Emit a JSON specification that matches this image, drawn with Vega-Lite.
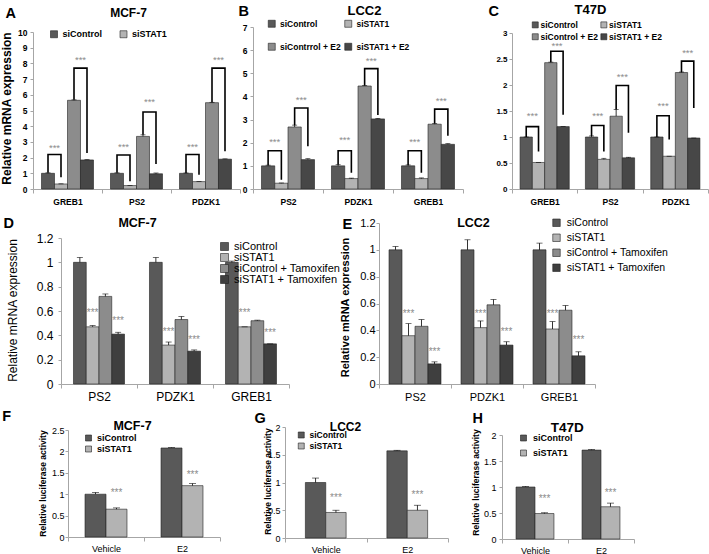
{
"$schema": "https://vega.github.io/schema/vega-lite/v6.json",
"background": "white",
"padding": 0,
"config": {
  "font": "Liberation Sans",
  "view": {"stroke": null},
  "axis": {"domainColor": "#a6a6a6", "tickColor": "#a6a6a6", "labelColor": "#000000", "titleColor": "#000000", "grid": false, "labelFont": "Liberation Sans", "titleFont": "Liberation Sans"},
  "legend": {"labelFont": "Liberation Sans", "labelColor": "#000000", "padding": 0, "symbolStrokeColor": "#222222", "symbolStrokeWidth": 0.6, "symbolType": "square"},
  "text": {"font": "Liberation Sans"}
},
"datasets": {
  "A_bars": [
    {"group": "GREB1", "cond": "siControl", "value": 1.0, "hi": 1.03},
    {"group": "GREB1", "cond": "siSTAT1", "value": 0.32, "hi": 0.33},
    {"group": "GREB1", "cond": "siControl + E2", "value": 5.65, "hi": 5.68},
    {"group": "GREB1", "cond": "siSTAT1 + E2", "value": 1.85, "hi": 1.87},
    {"group": "PS2", "cond": "siControl", "value": 1.0, "hi": 1.03},
    {"group": "PS2", "cond": "siSTAT1", "value": 0.22, "hi": 0.23},
    {"group": "PS2", "cond": "siControl + E2", "value": 3.35, "hi": 3.45},
    {"group": "PS2", "cond": "siSTAT1 + E2", "value": 0.97, "hi": 1.02},
    {"group": "PDZK1", "cond": "siControl", "value": 1.0, "hi": 1.02},
    {"group": "PDZK1", "cond": "siSTAT1", "value": 0.47, "hi": 0.48},
    {"group": "PDZK1", "cond": "siControl + E2", "value": 5.5, "hi": 5.52},
    {"group": "PDZK1", "cond": "siSTAT1 + E2", "value": 1.9, "hi": 1.92}
  ],
  "A_br": [
    {"id": "g1", "group": "GREB1", "cond": "siControl", "value": 1.03, "seq": 0},
    {"id": "g1", "group": "GREB1", "cond": "siControl", "value": 2.2, "seq": 1},
    {"id": "g1", "group": "GREB1", "cond": "siSTAT1", "value": 2.2, "seq": 2},
    {"id": "g1", "group": "GREB1", "cond": "siSTAT1", "value": 0.75, "seq": 3},
    {"id": "g2", "group": "GREB1", "cond": "siControl + E2", "value": 5.68, "seq": 0},
    {"id": "g2", "group": "GREB1", "cond": "siControl + E2", "value": 7.7, "seq": 1},
    {"id": "g2", "group": "GREB1", "cond": "siSTAT1 + E2", "value": 7.7, "seq": 2},
    {"id": "g2", "group": "GREB1", "cond": "siSTAT1 + E2", "value": 2.3, "seq": 3},
    {"id": "p1", "group": "PS2", "cond": "siControl", "value": 1.03, "seq": 0},
    {"id": "p1", "group": "PS2", "cond": "siControl", "value": 2.17, "seq": 1},
    {"id": "p1", "group": "PS2", "cond": "siSTAT1", "value": 2.17, "seq": 2},
    {"id": "p1", "group": "PS2", "cond": "siSTAT1", "value": 0.5, "seq": 3},
    {"id": "p2", "group": "PS2", "cond": "siControl + E2", "value": 3.45, "seq": 0},
    {"id": "p2", "group": "PS2", "cond": "siControl + E2", "value": 4.9, "seq": 1},
    {"id": "p2", "group": "PS2", "cond": "siSTAT1 + E2", "value": 4.9, "seq": 2},
    {"id": "p2", "group": "PS2", "cond": "siSTAT1 + E2", "value": 1.6, "seq": 3},
    {"id": "z1", "group": "PDZK1", "cond": "siControl", "value": 1.02, "seq": 0},
    {"id": "z1", "group": "PDZK1", "cond": "siControl", "value": 2.2, "seq": 1},
    {"id": "z1", "group": "PDZK1", "cond": "siSTAT1", "value": 2.2, "seq": 2},
    {"id": "z1", "group": "PDZK1", "cond": "siSTAT1", "value": 0.9, "seq": 3},
    {"id": "z2", "group": "PDZK1", "cond": "siControl + E2", "value": 5.52, "seq": 0},
    {"id": "z2", "group": "PDZK1", "cond": "siControl + E2", "value": 7.7, "seq": 1},
    {"id": "z2", "group": "PDZK1", "cond": "siSTAT1 + E2", "value": 7.7, "seq": 2},
    {"id": "z2", "group": "PDZK1", "cond": "siSTAT1 + E2", "value": 2.4, "seq": 3}
  ],
  "A_st": [
    {"group": "GREB1", "cond": "siControl", "value": 2.6},
    {"group": "GREB1", "cond": "siControl + E2", "value": 8.2},
    {"group": "PS2", "cond": "siControl", "value": 2.7},
    {"group": "PS2", "cond": "siControl + E2", "value": 5.55},
    {"group": "PDZK1", "cond": "siControl", "value": 2.65},
    {"group": "PDZK1", "cond": "siControl + E2", "value": 8.2}
  ],
  "B_bars": [
    {"group": "PS2", "cond": "siControl", "value": 1.0, "hi": 1.03},
    {"group": "PS2", "cond": "siSTAT1", "value": 0.25, "hi": 0.26},
    {"group": "PS2", "cond": "siContrrol + E2", "value": 2.68, "hi": 2.76},
    {"group": "PS2", "cond": "siSTAT1 + E2", "value": 1.27, "hi": 1.31},
    {"group": "PDZK1", "cond": "siControl", "value": 1.0, "hi": 1.05},
    {"group": "PDZK1", "cond": "siSTAT1", "value": 0.45, "hi": 0.47},
    {"group": "PDZK1", "cond": "siContrrol + E2", "value": 4.45, "hi": 4.47},
    {"group": "PDZK1", "cond": "siSTAT1 + E2", "value": 3.03, "hi": 3.05},
    {"group": "GREB1", "cond": "siControl", "value": 1.0, "hi": 1.04},
    {"group": "GREB1", "cond": "siSTAT1", "value": 0.45, "hi": 0.48},
    {"group": "GREB1", "cond": "siContrrol + E2", "value": 2.8, "hi": 2.83},
    {"group": "GREB1", "cond": "siSTAT1 + E2", "value": 1.93, "hi": 1.96}
  ],
  "B_br": [
    {"id": "p1", "group": "PS2", "cond": "siControl", "value": 1.03, "seq": 0},
    {"id": "p1", "group": "PS2", "cond": "siControl", "value": 1.65, "seq": 1},
    {"id": "p1", "group": "PS2", "cond": "siSTAT1", "value": 1.65, "seq": 2},
    {"id": "p1", "group": "PS2", "cond": "siSTAT1", "value": 0.4, "seq": 3},
    {"id": "p2", "group": "PS2", "cond": "siContrrol + E2", "value": 2.76, "seq": 0},
    {"id": "p2", "group": "PS2", "cond": "siContrrol + E2", "value": 3.5, "seq": 1},
    {"id": "p2", "group": "PS2", "cond": "siSTAT1 + E2", "value": 3.5, "seq": 2},
    {"id": "p2", "group": "PS2", "cond": "siSTAT1 + E2", "value": 1.85, "seq": 3},
    {"id": "z1", "group": "PDZK1", "cond": "siControl", "value": 1.05, "seq": 0},
    {"id": "z1", "group": "PDZK1", "cond": "siControl", "value": 1.65, "seq": 1},
    {"id": "z1", "group": "PDZK1", "cond": "siSTAT1", "value": 1.65, "seq": 2},
    {"id": "z1", "group": "PDZK1", "cond": "siSTAT1", "value": 0.7, "seq": 3},
    {"id": "z2", "group": "PDZK1", "cond": "siContrrol + E2", "value": 4.47, "seq": 0},
    {"id": "z2", "group": "PDZK1", "cond": "siContrrol + E2", "value": 5.2, "seq": 1},
    {"id": "z2", "group": "PDZK1", "cond": "siSTAT1 + E2", "value": 5.2, "seq": 2},
    {"id": "z2", "group": "PDZK1", "cond": "siSTAT1 + E2", "value": 3.2, "seq": 3},
    {"id": "g1", "group": "GREB1", "cond": "siControl", "value": 1.04, "seq": 0},
    {"id": "g1", "group": "GREB1", "cond": "siControl", "value": 1.65, "seq": 1},
    {"id": "g1", "group": "GREB1", "cond": "siSTAT1", "value": 1.65, "seq": 2},
    {"id": "g1", "group": "GREB1", "cond": "siSTAT1", "value": 0.7, "seq": 3},
    {"id": "g2", "group": "GREB1", "cond": "siContrrol + E2", "value": 2.83, "seq": 0},
    {"id": "g2", "group": "GREB1", "cond": "siContrrol + E2", "value": 3.45, "seq": 1},
    {"id": "g2", "group": "GREB1", "cond": "siSTAT1 + E2", "value": 3.45, "seq": 2},
    {"id": "g2", "group": "GREB1", "cond": "siSTAT1 + E2", "value": 2.3, "seq": 3}
  ],
  "B_st": [
    {"group": "PS2", "cond": "siControl", "value": 2.05},
    {"group": "PS2", "cond": "siContrrol + E2", "value": 3.85},
    {"group": "PDZK1", "cond": "siControl", "value": 2.1},
    {"group": "PDZK1", "cond": "siContrrol + E2", "value": 5.55},
    {"group": "GREB1", "cond": "siControl", "value": 2.05},
    {"group": "GREB1", "cond": "siContrrol + E2", "value": 3.8}
  ],
  "C_bars": [
    {"group": "GREB1", "cond": "siControl", "value": 1.0, "hi": 1.0},
    {"group": "GREB1", "cond": "siSTAT1", "value": 0.51, "hi": 0.51},
    {"group": "GREB1", "cond": "siControl + E2", "value": 2.43, "hi": 2.44},
    {"group": "GREB1", "cond": "siSTAT1 + E2", "value": 1.2, "hi": 1.2},
    {"group": "PS2", "cond": "siControl", "value": 1.0, "hi": 1.02},
    {"group": "PS2", "cond": "siSTAT1", "value": 0.57, "hi": 0.59},
    {"group": "PS2", "cond": "siControl + E2", "value": 1.4, "hi": 1.53},
    {"group": "PS2", "cond": "siSTAT1 + E2", "value": 0.6, "hi": 0.61},
    {"group": "PDZK1", "cond": "siControl", "value": 1.0, "hi": 1.0},
    {"group": "PDZK1", "cond": "siSTAT1", "value": 0.63, "hi": 0.63},
    {"group": "PDZK1", "cond": "siControl + E2", "value": 2.24, "hi": 2.25},
    {"group": "PDZK1", "cond": "siSTAT1 + E2", "value": 0.98, "hi": 0.98}
  ],
  "C_br": [
    {"id": "g1", "group": "GREB1", "cond": "siControl", "value": 1.0, "seq": 0},
    {"id": "g1", "group": "GREB1", "cond": "siControl", "value": 1.2, "seq": 1},
    {"id": "g1", "group": "GREB1", "cond": "siSTAT1", "value": 1.2, "seq": 2},
    {"id": "g1", "group": "GREB1", "cond": "siSTAT1", "value": 0.72, "seq": 3},
    {"id": "g2", "group": "GREB1", "cond": "siControl + E2", "value": 2.44, "seq": 0},
    {"id": "g2", "group": "GREB1", "cond": "siControl + E2", "value": 2.65, "seq": 1},
    {"id": "g2", "group": "GREB1", "cond": "siSTAT1 + E2", "value": 2.65, "seq": 2},
    {"id": "g2", "group": "GREB1", "cond": "siSTAT1 + E2", "value": 1.43, "seq": 3},
    {"id": "p1", "group": "PS2", "cond": "siControl", "value": 1.02, "seq": 0},
    {"id": "p1", "group": "PS2", "cond": "siControl", "value": 1.22, "seq": 1},
    {"id": "p1", "group": "PS2", "cond": "siSTAT1", "value": 1.22, "seq": 2},
    {"id": "p1", "group": "PS2", "cond": "siSTAT1", "value": 0.72, "seq": 3},
    {"id": "p2", "group": "PS2", "cond": "siControl + E2", "value": 1.53, "seq": 0},
    {"id": "p2", "group": "PS2", "cond": "siControl + E2", "value": 1.99, "seq": 1},
    {"id": "p2", "group": "PS2", "cond": "siSTAT1 + E2", "value": 1.99, "seq": 2},
    {"id": "p2", "group": "PS2", "cond": "siSTAT1 + E2", "value": 1.08, "seq": 3},
    {"id": "z1", "group": "PDZK1", "cond": "siControl", "value": 1.0, "seq": 0},
    {"id": "z1", "group": "PDZK1", "cond": "siControl", "value": 1.41, "seq": 1},
    {"id": "z1", "group": "PDZK1", "cond": "siSTAT1", "value": 1.41, "seq": 2},
    {"id": "z1", "group": "PDZK1", "cond": "siSTAT1", "value": 0.95, "seq": 3},
    {"id": "z2", "group": "PDZK1", "cond": "siControl + E2", "value": 2.25, "seq": 0},
    {"id": "z2", "group": "PDZK1", "cond": "siControl + E2", "value": 2.46, "seq": 1},
    {"id": "z2", "group": "PDZK1", "cond": "siSTAT1 + E2", "value": 2.46, "seq": 2},
    {"id": "z2", "group": "PDZK1", "cond": "siSTAT1 + E2", "value": 1.56, "seq": 3}
  ],
  "C_st": [
    {"group": "GREB1", "cond": "siControl", "value": 1.4},
    {"group": "GREB1", "cond": "siControl + E2", "value": 2.75},
    {"group": "PS2", "cond": "siControl", "value": 1.4},
    {"group": "PS2", "cond": "siControl + E2", "value": 2.15},
    {"group": "PDZK1", "cond": "siControl", "value": 1.59},
    {"group": "PDZK1", "cond": "siControl + E2", "value": 2.62}
  ],
  "D_bars": [
    {"group": "PS2", "cond": "siControl", "value": 1.0, "hi": 1.04},
    {"group": "PS2", "cond": "siSTAT1", "value": 0.47, "hi": 0.48},
    {"group": "PS2", "cond": "siControl + Tamoxifen", "value": 0.72, "hi": 0.74},
    {"group": "PS2", "cond": "siSTAT1 + Tamoxifen", "value": 0.41, "hi": 0.425},
    {"group": "PDZK1", "cond": "siControl", "value": 1.0, "hi": 1.04},
    {"group": "PDZK1", "cond": "siSTAT1", "value": 0.32, "hi": 0.345},
    {"group": "PDZK1", "cond": "siControl + Tamoxifen", "value": 0.53, "hi": 0.555},
    {"group": "PDZK1", "cond": "siSTAT1 + Tamoxifen", "value": 0.27, "hi": 0.28},
    {"group": "GREB1", "cond": "siControl", "value": 1.0, "hi": 1.01},
    {"group": "GREB1", "cond": "siSTAT1", "value": 0.47, "hi": 0.47},
    {"group": "GREB1", "cond": "siControl + Tamoxifen", "value": 0.52, "hi": 0.525},
    {"group": "GREB1", "cond": "siSTAT1 + Tamoxifen", "value": 0.33, "hi": 0.33}
  ],
  "D_st": [
    {"group": "PS2", "cond": "siSTAT1", "value": 0.58},
    {"group": "PS2", "cond": "siSTAT1 + Tamoxifen", "value": 0.52},
    {"group": "PDZK1", "cond": "siSTAT1", "value": 0.43},
    {"group": "PDZK1", "cond": "siSTAT1 + Tamoxifen", "value": 0.36},
    {"group": "GREB1", "cond": "siSTAT1", "value": 0.58},
    {"group": "GREB1", "cond": "siSTAT1 + Tamoxifen", "value": 0.42}
  ],
  "E_bars": [
    {"group": "PS2", "cond": "siControl", "value": 1.0, "hi": 1.025},
    {"group": "PS2", "cond": "siSTAT1", "value": 0.36, "hi": 0.45},
    {"group": "PS2", "cond": "siControl + Tamoxifen", "value": 0.43, "hi": 0.48},
    {"group": "PS2", "cond": "siSTAT1 + Tamoxifen", "value": 0.15, "hi": 0.165},
    {"group": "PDZK1", "cond": "siControl", "value": 1.0, "hi": 1.075},
    {"group": "PDZK1", "cond": "siSTAT1", "value": 0.42, "hi": 0.47},
    {"group": "PDZK1", "cond": "siControl + Tamoxifen", "value": 0.59, "hi": 0.63},
    {"group": "PDZK1", "cond": "siSTAT1 + Tamoxifen", "value": 0.29, "hi": 0.315},
    {"group": "GREB1", "cond": "siControl", "value": 1.0, "hi": 1.05},
    {"group": "GREB1", "cond": "siSTAT1", "value": 0.41, "hi": 0.465},
    {"group": "GREB1", "cond": "siControl + Tamoxifen", "value": 0.55, "hi": 0.585},
    {"group": "GREB1", "cond": "siSTAT1 + Tamoxifen", "value": 0.21, "hi": 0.24}
  ],
  "E_st": [
    {"group": "PS2", "cond": "siSTAT1", "value": 0.52},
    {"group": "PS2", "cond": "siSTAT1 + Tamoxifen", "value": 0.24},
    {"group": "PDZK1", "cond": "siSTAT1", "value": 0.52},
    {"group": "PDZK1", "cond": "siSTAT1 + Tamoxifen", "value": 0.39},
    {"group": "GREB1", "cond": "siSTAT1", "value": 0.52},
    {"group": "GREB1", "cond": "siSTAT1 + Tamoxifen", "value": 0.33}
  ],
  "F_bars": [
    {"group": "Vehicle", "cond": "siControl", "value": 1.0, "hi": 1.04},
    {"group": "Vehicle", "cond": "siSTAT1", "value": 0.65, "hi": 0.68},
    {"group": "E2", "cond": "siControl", "value": 2.08, "hi": 2.09},
    {"group": "E2", "cond": "siSTAT1", "value": 1.2, "hi": 1.25}
  ],
  "F_st": [
    {"group": "Vehicle", "cond": "siSTAT1", "value": 1.03},
    {"group": "E2", "cond": "siSTAT1", "value": 1.45}
  ],
  "G_bars": [
    {"group": "Vehicle", "cond": "siControl", "value": 1.0, "hi": 1.08},
    {"group": "Vehicle", "cond": "siSTAT1", "value": 0.46, "hi": 0.5},
    {"group": "E2", "cond": "siControl", "value": 1.57, "hi": 1.58},
    {"group": "E2", "cond": "siSTAT1", "value": 0.5, "hi": 0.59}
  ],
  "G_st": [
    {"group": "Vehicle", "cond": "siSTAT1", "value": 0.72},
    {"group": "E2", "cond": "siSTAT1", "value": 0.77}
  ],
  "H_bars": [
    {"group": "Vehicle", "cond": "siControl", "value": 1.0, "hi": 1.01},
    {"group": "Vehicle", "cond": "siSTAT1", "value": 0.49, "hi": 0.505},
    {"group": "E2", "cond": "siControl", "value": 1.71, "hi": 1.72},
    {"group": "E2", "cond": "siSTAT1", "value": 0.62, "hi": 0.69}
  ],
  "H_st": [
    {"group": "Vehicle", "cond": "siSTAT1", "value": 0.77},
    {"group": "E2", "cond": "siSTAT1", "value": 0.88}
  ]
},
"columns": 3,
"spacing": {"row": 0, "column": 0},
"align": "each",
"bounds": "flush",
"resolve": {"scale": {"color": "independent", "xOffset": "independent"}, "legend": {"color": "independent"}},
"concat": [
 {
  "width": 245, "height": 189,
  "resolve": {"axis": {"x": "independent", "y": "independent"}},
  "layer": [
   {"data": {"name": "A_bars"},
    "mark": {"type": "bar", "stroke": "#222222", "strokeWidth": 0.6},
    "encoding": {
     "x": {"field": "group", "type": "nominal", "sort": ["GREB1", "PS2", "PDZK1"], "scale": {"range": [33, 240], "paddingInner": 0, "paddingOuter": 0}, "axis": {"title": null, "labelAngle": 0, "labelFontSize": 8.5, "labelFontWeight": "bold", "tickBand": "extent", "tickSize": 4, "labelPadding": 4}},
     "xOffset": {"field": "cond", "type": "nominal", "sort": ["siControl", "siSTAT1", "siControl + E2", "siSTAT1 + E2"], "scale": {"paddingInner": 0, "paddingOuter": 0.654}},
     "y": {"field": "value", "type": "quantitative", "scale": {"domain": [0, 10], "range": [189, 32], "nice": false}, "axis": {"offset": -33, "title": "Relative mRNA expression", "values": [0, 1, 2, 3, 4, 5, 6, 7, 8, 9, 10], "format": "~r", "labelFontSize": 8.5, "labelFontWeight": "bold", "tickSize": 3, "labelPadding": 3, "titleFontSize": 12, "titleFontWeight": "bold", "titleX": -27, "titleY": 108, "titleAngle": -90, "titleAlign": "center", "titleBaseline": "middle"}},
     "color": {"field": "cond", "type": "nominal", "scale": {"domain": ["siControl", "siSTAT1", "siControl + E2", "siSTAT1 + E2"], "range": ["#595959", "#b3b3b3", "#8c8c8c", "#474747"]}, "legend": {"values": ["siControl", "siSTAT1"], "title": null, "orient": "none", "legendX": 49.5, "legendY": 29.5, "direction": "horizontal", "columns": 2, "columnPadding": 15.5, "symbolSize": 49, "labelFontSize": 9, "labelFontWeight": "bold", "labelOffset": 4}}
    }},
   {"data": {"name": "A_bars"},
    "mark": {"type": "rule", "color": "#000000", "strokeWidth": 0.8},
    "encoding": {
     "x": {"field": "group", "type": "nominal", "sort": ["GREB1", "PS2", "PDZK1"], "axis": null},
     "xOffset": {"field": "cond", "type": "nominal", "sort": ["siControl", "siSTAT1", "siControl + E2", "siSTAT1 + E2"]},
     "y": {"field": "value", "type": "quantitative", "axis": null},
     "y2": {"field": "hi"}
    }},
   {"data": {"name": "A_bars"},
    "mark": {"type": "tick", "color": "#000000", "size": 5, "thickness": 0.8},
    "encoding": {
     "x": {"field": "group", "type": "nominal", "sort": ["GREB1", "PS2", "PDZK1"], "axis": null},
     "xOffset": {"field": "cond", "type": "nominal", "sort": ["siControl", "siSTAT1", "siControl + E2", "siSTAT1 + E2"]},
     "y": {"field": "hi", "type": "quantitative", "axis": null}
    }},
   {"data": {"name": "A_br"},
    "mark": {"type": "line", "color": "#000000", "strokeWidth": 1.6},
    "encoding": {
     "x": {"field": "group", "type": "nominal", "sort": ["GREB1", "PS2", "PDZK1"], "axis": null},
     "xOffset": {"field": "cond", "type": "nominal", "sort": ["siControl", "siSTAT1", "siControl + E2", "siSTAT1 + E2"]},
     "y": {"field": "value", "type": "quantitative", "axis": null},
     "detail": {"field": "id", "type": "nominal"},
     "order": {"field": "seq", "type": "quantitative"}
    }},
   {"data": {"name": "A_st"},
    "mark": {"type": "text", "text": "***", "color": "#8c8c8c", "fontSize": 9.5, "dx": 6.5},
    "encoding": {
     "x": {"field": "group", "type": "nominal", "sort": ["GREB1", "PS2", "PDZK1"], "axis": {"orient": "top", "title": "MCF-7", "labels": false, "ticks": false, "domain": false, "titleX": 128, "titleY": 16, "titleAngle": 0, "titleAlign": "center", "titleBaseline": "alphabetic", "titleFontSize": 12, "titleFontWeight": "bold"}},
     "xOffset": {"field": "cond", "type": "nominal", "sort": ["siControl", "siSTAT1", "siControl + E2", "siSTAT1 + E2"]},
     "y": {"field": "value", "type": "quantitative", "axis": {"orient": "right", "title": "A", "labels": false, "ticks": false, "domain": false, "titleX": -240, "titleY": 17, "titleAngle": 0, "titleAlign": "left", "titleBaseline": "alphabetic", "titleFontSize": 14.5, "titleFontWeight": "bold"}}
    }}
  ]
 },
 {
  "width": 222, "height": 189,
  "resolve": {"axis": {"x": "independent", "y": "independent"}},
  "layer": [
   {"data": {"name": "B_bars"},
    "mark": {"type": "bar", "stroke": "#222222", "strokeWidth": 0.6},
    "encoding": {
     "x": {"field": "group", "type": "nominal", "sort": ["PS2", "PDZK1", "GREB1"], "scale": {"range": [8, 218], "paddingInner": 0, "paddingOuter": 0}, "axis": {"title": null, "labelAngle": 0, "labelFontSize": 8.5, "labelFontWeight": "bold", "tickBand": "extent", "tickSize": 4, "labelPadding": 4}},
     "xOffset": {"field": "cond", "type": "nominal", "sort": ["siControl", "siSTAT1", "siContrrol + E2", "siSTAT1 + E2"], "scale": {"paddingInner": 0, "paddingOuter": 0.64}},
     "y": {"field": "value", "type": "quantitative", "scale": {"domain": [0, 7], "range": [189, 27], "nice": false}, "axis": {"offset": -8, "title": null, "values": [0, 1, 2, 3, 4, 5, 6, 7], "format": "~r", "labelFontSize": 8.5, "labelFontWeight": "bold", "tickSize": 3, "labelPadding": 3}},
     "color": {"field": "cond", "type": "nominal", "scale": {"domain": ["siControl", "siSTAT1", "siContrrol + E2", "siSTAT1 + E2"], "range": ["#595959", "#b3b3b3", "#8c8c8c", "#474747"]}, "legend": {"title": null, "orient": "none", "legendX": 22.5, "legendY": 19.5, "direction": "horizontal", "columns": 2, "columnPadding": 1.5, "rowPadding": 13, "symbolSize": 49, "labelFontSize": 8.5, "labelFontWeight": "bold", "labelOffset": 4}}
    }},
   {"data": {"name": "B_bars"},
    "mark": {"type": "rule", "color": "#000000", "strokeWidth": 0.8},
    "encoding": {
     "x": {"field": "group", "type": "nominal", "sort": ["PS2", "PDZK1", "GREB1"], "axis": null},
     "xOffset": {"field": "cond", "type": "nominal", "sort": ["siControl", "siSTAT1", "siContrrol + E2", "siSTAT1 + E2"]},
     "y": {"field": "value", "type": "quantitative", "axis": null},
     "y2": {"field": "hi"}
    }},
   {"data": {"name": "B_bars"},
    "mark": {"type": "tick", "color": "#000000", "size": 5, "thickness": 0.8},
    "encoding": {
     "x": {"field": "group", "type": "nominal", "sort": ["PS2", "PDZK1", "GREB1"], "axis": null},
     "xOffset": {"field": "cond", "type": "nominal", "sort": ["siControl", "siSTAT1", "siContrrol + E2", "siSTAT1 + E2"]},
     "y": {"field": "hi", "type": "quantitative", "axis": null}
    }},
   {"data": {"name": "B_br"},
    "mark": {"type": "line", "color": "#000000", "strokeWidth": 1.6},
    "encoding": {
     "x": {"field": "group", "type": "nominal", "sort": ["PS2", "PDZK1", "GREB1"], "axis": null},
     "xOffset": {"field": "cond", "type": "nominal", "sort": ["siControl", "siSTAT1", "siContrrol + E2", "siSTAT1 + E2"]},
     "y": {"field": "value", "type": "quantitative", "axis": null},
     "detail": {"field": "id", "type": "nominal"},
     "order": {"field": "seq", "type": "quantitative"}
    }},
   {"data": {"name": "B_st"},
    "mark": {"type": "text", "text": "***", "color": "#8c8c8c", "fontSize": 9.5, "dx": 6.6},
    "encoding": {
     "x": {"field": "group", "type": "nominal", "sort": ["PS2", "PDZK1", "GREB1"], "axis": {"orient": "top", "title": "LCC2", "labels": false, "ticks": false, "domain": false, "titleX": 119, "titleY": 14.7, "titleAngle": 0, "titleAlign": "center", "titleBaseline": "alphabetic", "titleFontSize": 13, "titleFontWeight": "bold"}},
     "xOffset": {"field": "cond", "type": "nominal", "sort": ["siControl", "siSTAT1", "siContrrol + E2", "siSTAT1 + E2"]},
     "y": {"field": "value", "type": "quantitative", "axis": {"orient": "right", "title": "B", "labels": false, "ticks": false, "domain": false, "titleX": -229, "titleY": 15.7, "titleAngle": 0, "titleAlign": "left", "titleBaseline": "alphabetic", "titleFontSize": 14.5, "titleFontWeight": "bold"}}
    }}
  ]
 },
 {
  "width": 242, "height": 189,
  "resolve": {"axis": {"x": "independent", "y": "independent"}},
  "layer": [
   {"data": {"name": "C_bars"},
    "mark": {"type": "bar", "stroke": "#222222", "strokeWidth": 0.6},
    "encoding": {
     "x": {"field": "group", "type": "nominal", "sort": ["GREB1", "PS2", "PDZK1"], "scale": {"range": [45, 241], "paddingInner": 0, "paddingOuter": 0}, "axis": {"title": null, "labelAngle": 0, "labelFontSize": 8.5, "labelFontWeight": "bold", "tickBand": "extent", "tickSize": 4, "labelPadding": 4}},
     "xOffset": {"field": "cond", "type": "nominal", "sort": ["siControl", "siSTAT1", "siControl + E2", "siSTAT1 + E2"], "scale": {"paddingInner": 0, "paddingOuter": 0.656}},
     "y": {"field": "value", "type": "quantitative", "scale": {"domain": [0, 3], "range": [189, 33], "nice": false}, "axis": {"offset": -45, "title": null, "values": [0, 0.5, 1, 1.5, 2, 2.5, 3], "format": "~r", "labelFontSize": 8, "labelFontWeight": "bold", "tickSize": 3, "labelPadding": 2}},
     "color": {"field": "cond", "type": "nominal", "scale": {"domain": ["siControl", "siSTAT1", "siControl + E2", "siSTAT1 + E2"], "range": ["#595959", "#b3b3b3", "#8c8c8c", "#474747"]}, "legend": {"title": null, "orient": "none", "legendX": 64, "legendY": 20.5, "direction": "horizontal", "columns": 2, "columnPadding": 1.6, "rowPadding": 3, "symbolSize": 36, "labelFontSize": 8.5, "labelFontWeight": "bold", "labelOffset": 1}}
    }},
   {"data": {"name": "C_bars"},
    "mark": {"type": "rule", "color": "#000000", "strokeWidth": 0.8},
    "encoding": {
     "x": {"field": "group", "type": "nominal", "sort": ["GREB1", "PS2", "PDZK1"], "axis": null},
     "xOffset": {"field": "cond", "type": "nominal", "sort": ["siControl", "siSTAT1", "siControl + E2", "siSTAT1 + E2"]},
     "y": {"field": "value", "type": "quantitative", "axis": null},
     "y2": {"field": "hi"}
    }},
   {"data": {"name": "C_bars"},
    "mark": {"type": "tick", "color": "#000000", "size": 5, "thickness": 0.8},
    "encoding": {
     "x": {"field": "group", "type": "nominal", "sort": ["GREB1", "PS2", "PDZK1"], "axis": null},
     "xOffset": {"field": "cond", "type": "nominal", "sort": ["siControl", "siSTAT1", "siControl + E2", "siSTAT1 + E2"]},
     "y": {"field": "hi", "type": "quantitative", "axis": null}
    }},
   {"data": {"name": "C_br"},
    "mark": {"type": "line", "color": "#000000", "strokeWidth": 1.6},
    "encoding": {
     "x": {"field": "group", "type": "nominal", "sort": ["GREB1", "PS2", "PDZK1"], "axis": null},
     "xOffset": {"field": "cond", "type": "nominal", "sort": ["siControl", "siSTAT1", "siControl + E2", "siSTAT1 + E2"]},
     "y": {"field": "value", "type": "quantitative", "axis": null},
     "detail": {"field": "id", "type": "nominal"},
     "order": {"field": "seq", "type": "quantitative"}
    }},
   {"data": {"name": "C_st"},
    "mark": {"type": "text", "text": "***", "color": "#8c8c8c", "fontSize": 9.5, "dx": 6.2},
    "encoding": {
     "x": {"field": "group", "type": "nominal", "sort": ["GREB1", "PS2", "PDZK1"], "axis": {"orient": "top", "title": "T47D", "labels": false, "ticks": false, "domain": false, "titleX": 123, "titleY": 13, "titleAngle": 0, "titleAlign": "center", "titleBaseline": "alphabetic", "titleFontSize": 13, "titleFontWeight": "bold"}},
     "xOffset": {"field": "cond", "type": "nominal", "sort": ["siControl", "siSTAT1", "siControl + E2", "siSTAT1 + E2"]},
     "y": {"field": "value", "type": "quantitative", "axis": {"orient": "right", "title": "C", "labels": false, "ticks": false, "domain": false, "titleX": -221, "titleY": 15.7, "titleAngle": 0, "titleAlign": "left", "titleBaseline": "alphabetic", "titleFontSize": 14.5, "titleFontWeight": "bold"}}
    }}
  ]
 },
 {
  "width": 245, "height": 195,
  "resolve": {"axis": {"x": "independent", "y": "independent"}},
  "layer": [
   {"data": {"name": "D_bars"},
    "mark": {"type": "bar", "stroke": "#222222", "strokeWidth": 0.6},
    "encoding": {
     "x": {"field": "group", "type": "nominal", "sort": ["PS2", "PDZK1", "GREB1"], "scale": {"range": [61, 289], "paddingInner": 0, "paddingOuter": 0}, "axis": {"title": null, "labelAngle": 0, "labelFontSize": 12, "tickBand": "extent", "tickSize": 4, "labelPadding": 3}},
     "xOffset": {"field": "cond", "type": "nominal", "sort": ["siControl", "siSTAT1", "siControl + Tamoxifen", "siSTAT1 + Tamoxifen"], "scale": {"paddingInner": 0, "paddingOuter": 0.98}},
     "y": {"field": "value", "type": "quantitative", "scale": {"domain": [0, 1.2], "range": [195, 49], "nice": false}, "axis": {"offset": -61, "title": "Relative mRNA expression", "values": [0, 0.2, 0.4, 0.6, 0.8, 1, 1.2], "format": "~r", "labelFontSize": 12, "tickSize": 3, "labelPadding": 5, "titleFontSize": 12, "titleFontWeight": "normal", "titleX": -49, "titleY": 121, "titleAngle": -90, "titleAlign": "center", "titleBaseline": "middle"}},
     "color": {"field": "cond", "type": "nominal", "scale": {"domain": ["siControl", "siSTAT1", "siControl + Tamoxifen", "siSTAT1 + Tamoxifen"], "range": ["#595959", "#b3b3b3", "#8c8c8c", "#3f3f3f"]}, "legend": {"title": null, "orient": "none", "legendX": 219, "legendY": 52, "direction": "vertical", "rowPadding": -2, "symbolSize": 64, "labelFontSize": 11, "labelOffset": 4}}
    }},
   {"data": {"name": "D_bars"},
    "mark": {"type": "rule", "color": "#000000", "strokeWidth": 0.8},
    "encoding": {
     "x": {"field": "group", "type": "nominal", "sort": ["PS2", "PDZK1", "GREB1"], "axis": null},
     "xOffset": {"field": "cond", "type": "nominal", "sort": ["siControl", "siSTAT1", "siControl + Tamoxifen", "siSTAT1 + Tamoxifen"]},
     "y": {"field": "value", "type": "quantitative", "axis": null},
     "y2": {"field": "hi"}
    }},
   {"data": {"name": "D_bars"},
    "mark": {"type": "tick", "color": "#000000", "size": 6, "thickness": 0.8},
    "encoding": {
     "x": {"field": "group", "type": "nominal", "sort": ["PS2", "PDZK1", "GREB1"], "axis": null},
     "xOffset": {"field": "cond", "type": "nominal", "sort": ["siControl", "siSTAT1", "siControl + Tamoxifen", "siSTAT1 + Tamoxifen"]},
     "y": {"field": "hi", "type": "quantitative", "axis": null}
    }},
   {"data": {"name": "D_st"},
    "mark": {"type": "text", "text": "***", "color": "#8c8c8c", "fontSize": 10},
    "encoding": {
     "x": {"field": "group", "type": "nominal", "sort": ["PS2", "PDZK1", "GREB1"], "axis": {"orient": "top", "title": "MCF-7", "labels": false, "ticks": false, "domain": false, "titleX": 137, "titleY": 37.5, "titleAngle": 0, "titleAlign": "center", "titleBaseline": "alphabetic", "titleFontSize": 12.5, "titleFontWeight": "bold"}},
     "xOffset": {"field": "cond", "type": "nominal", "sort": ["siControl", "siSTAT1", "siControl + Tamoxifen", "siSTAT1 + Tamoxifen"]},
     "y": {"field": "value", "type": "quantitative", "axis": {"orient": "right", "title": "D", "labels": false, "ticks": false, "domain": false, "titleX": -242, "titleY": 38, "titleAngle": 0, "titleAlign": "left", "titleBaseline": "alphabetic", "titleFontSize": 14.5, "titleFontWeight": "bold"}}
    }}
  ]
 },
 {
  "width": 222, "height": 195,
  "resolve": {"axis": {"x": "independent", "y": "independent"}},
  "layer": [
   {"data": {"name": "E_bars"},
    "mark": {"type": "bar", "stroke": "#222222", "strokeWidth": 0.6},
    "encoding": {
     "x": {"field": "group", "type": "nominal", "sort": ["PS2", "PDZK1", "GREB1"], "scale": {"range": [134, 350], "paddingInner": 0, "paddingOuter": 0}, "axis": {"title": null, "labelAngle": 0, "labelFontSize": 11, "tickBand": "extent", "tickSize": 4, "labelPadding": 3}},
     "xOffset": {"field": "cond", "type": "nominal", "sort": ["siControl", "siSTAT1", "siControl + Tamoxifen", "siSTAT1 + Tamoxifen"], "scale": {"paddingInner": 0, "paddingOuter": 0.77}},
     "y": {"field": "value", "type": "quantitative", "scale": {"domain": [0, 1.2], "range": [195, 34], "nice": false}, "axis": {"offset": -134, "title": "Relative mRNA expression", "values": [0, 0.2, 0.4, 0.6, 0.8, 1, 1.2], "format": "~r", "labelFontSize": 11, "tickSize": 3, "labelPadding": 1, "titleFontSize": 11, "titleFontWeight": "bold", "titleX": -34, "titleY": 118, "titleAngle": -90, "titleAlign": "center", "titleBaseline": "middle"}},
     "color": {"field": "cond", "type": "nominal", "scale": {"domain": ["siControl", "siSTAT1", "siControl + Tamoxifen", "siSTAT1 + Tamoxifen"], "range": ["#595959", "#b3b3b3", "#8c8c8c", "#3f3f3f"]}, "legend": {"title": null, "orient": "none", "legendX": 306.25, "legendY": 28.5, "direction": "vertical", "rowPadding": 4, "symbolSize": 56, "labelFontSize": 10.5, "labelOffset": 5}}
    }},
   {"data": {"name": "E_bars"},
    "mark": {"type": "rule", "color": "#000000", "strokeWidth": 0.8},
    "encoding": {
     "x": {"field": "group", "type": "nominal", "sort": ["PS2", "PDZK1", "GREB1"], "axis": null},
     "xOffset": {"field": "cond", "type": "nominal", "sort": ["siControl", "siSTAT1", "siControl + Tamoxifen", "siSTAT1 + Tamoxifen"]},
     "y": {"field": "value", "type": "quantitative", "axis": null},
     "y2": {"field": "hi"}
    }},
   {"data": {"name": "E_bars"},
    "mark": {"type": "tick", "color": "#000000", "size": 6, "thickness": 0.8},
    "encoding": {
     "x": {"field": "group", "type": "nominal", "sort": ["PS2", "PDZK1", "GREB1"], "axis": null},
     "xOffset": {"field": "cond", "type": "nominal", "sort": ["siControl", "siSTAT1", "siControl + Tamoxifen", "siSTAT1 + Tamoxifen"]},
     "y": {"field": "hi", "type": "quantitative", "axis": null}
    }},
   {"data": {"name": "E_st"},
    "mark": {"type": "text", "text": "***", "color": "#8c8c8c", "fontSize": 10},
    "encoding": {
     "x": {"field": "group", "type": "nominal", "sort": ["PS2", "PDZK1", "GREB1"], "axis": {"orient": "top", "title": "LCC2", "labels": false, "ticks": false, "domain": false, "titleX": 228, "titleY": 37, "titleAngle": 0, "titleAlign": "center", "titleBaseline": "alphabetic", "titleFontSize": 12.5, "titleFontWeight": "bold"}},
     "xOffset": {"field": "cond", "type": "nominal", "sort": ["siControl", "siSTAT1", "siControl + Tamoxifen", "siSTAT1 + Tamoxifen"]},
     "y": {"field": "value", "type": "quantitative", "axis": {"orient": "right", "title": "E", "labels": false, "ticks": false, "domain": false, "titleX": -125, "titleY": 39.3, "titleAngle": 0, "titleAlign": "left", "titleBaseline": "alphabetic", "titleFontSize": 14.5, "titleFontWeight": "bold"}}
    }}
  ]
 },
 {"width": 242, "height": 195, "data": {"values": []}, "mark": "point", "encoding": {}},
 {
  "width": 245, "height": 155,
  "resolve": {"axis": {"x": "independent", "y": "independent"}},
  "layer": [
   {"data": {"name": "F_bars"},
    "mark": {"type": "bar", "stroke": "#222222", "strokeWidth": 0.6},
    "encoding": {
     "x": {"field": "group", "type": "nominal", "sort": ["Vehicle", "E2"], "scale": {"range": [68, 220], "paddingInner": 0, "paddingOuter": 0}, "axis": {"offset": -2, "title": null, "labelAngle": 0, "labelFontSize": 9, "tickBand": "extent", "tickSize": 4, "labelPadding": 3}},
     "xOffset": {"field": "cond", "type": "nominal", "sort": ["siControl", "siSTAT1"], "scale": {"paddingInner": 0, "paddingOuter": 0.81}},
     "y": {"field": "value", "type": "quantitative", "scale": {"domain": [0, 2.5], "range": [153, 46], "nice": false}, "axis": {"offset": -68, "title": "Relative luciferase activity", "values": [0, 0.5, 1, 1.5, 2, 2.5], "format": "~r", "labelFontSize": 9, "tickSize": 3, "labelPadding": 1, "titleFontSize": 8.5, "titleFontWeight": "bold", "titleX": -26, "titleY": 99, "titleAngle": -90, "titleAlign": "center", "titleBaseline": "middle"}},
     "color": {"field": "cond", "type": "nominal", "scale": {"domain": ["siControl", "siSTAT1"], "range": ["#595959", "#b3b3b3"]}, "legend": {"title": null, "orient": "none", "legendX": 84, "legendY": 49.5, "direction": "vertical", "rowPadding": 1, "symbolSize": 36, "labelFontSize": 9, "labelFontWeight": "bold", "labelOffset": 4}}
    }},
   {"data": {"name": "F_bars"},
    "mark": {"type": "rule", "color": "#000000", "strokeWidth": 0.8},
    "encoding": {
     "x": {"field": "group", "type": "nominal", "sort": ["Vehicle", "E2"], "axis": null},
     "xOffset": {"field": "cond", "type": "nominal", "sort": ["siControl", "siSTAT1"]},
     "y": {"field": "value", "type": "quantitative", "axis": null},
     "y2": {"field": "hi"}
    }},
   {"data": {"name": "F_bars"},
    "mark": {"type": "tick", "color": "#000000", "size": 7, "thickness": 0.8},
    "encoding": {
     "x": {"field": "group", "type": "nominal", "sort": ["Vehicle", "E2"], "axis": null},
     "xOffset": {"field": "cond", "type": "nominal", "sort": ["siControl", "siSTAT1"]},
     "y": {"field": "hi", "type": "quantitative", "axis": null}
    }},
   {"data": {"name": "F_st"},
    "mark": {"type": "text", "text": "***", "color": "#8c8c8c", "fontSize": 10},
    "encoding": {
     "x": {"field": "group", "type": "nominal", "sort": ["Vehicle", "E2"], "axis": {"orient": "top", "title": "MCF-7", "labels": false, "ticks": false, "domain": false, "titleX": 132, "titleY": 45.5, "titleAngle": 0, "titleAlign": "center", "titleBaseline": "alphabetic", "titleFontSize": 12.5, "titleFontWeight": "bold"}},
     "xOffset": {"field": "cond", "type": "nominal", "sort": ["siControl", "siSTAT1"]},
     "y": {"field": "value", "type": "quantitative", "axis": {"orient": "right", "title": "F", "labels": false, "ticks": false, "domain": false, "titleX": -243.3, "titleY": 36, "titleAngle": 0, "titleAlign": "left", "titleBaseline": "alphabetic", "titleFontSize": 14.5, "titleFontWeight": "bold"}}
    }}
  ]
 },
 {
  "width": 222, "height": 155,
  "resolve": {"axis": {"x": "independent", "y": "independent"}},
  "layer": [
   {"data": {"name": "G_bars"},
    "mark": {"type": "bar", "stroke": "#222222", "strokeWidth": 0.6},
    "encoding": {
     "x": {"field": "group", "type": "nominal", "sort": ["Vehicle", "E2"], "scale": {"range": [40, 203], "paddingInner": 0, "paddingOuter": 0}, "axis": {"offset": -1, "title": null, "labelAngle": 0, "labelFontSize": 9, "tickBand": "extent", "tickSize": 4, "labelPadding": 3}},
     "xOffset": {"field": "cond", "type": "nominal", "sort": ["siControl", "siSTAT1"], "scale": {"paddingInner": 0, "paddingOuter": 1.72}},
     "y": {"field": "value", "type": "quantitative", "scale": {"domain": [0, 2], "range": [154, 43], "nice": false}, "axis": {"offset": -40, "title": "Relative luciferase activity", "values": [0, 0.5, 1, 1.5, 2], "format": "~r", "labelFontSize": 9, "tickSize": 3, "labelPadding": 2, "titleFontSize": 8.5, "titleFontWeight": "bold", "titleX": -18, "titleY": 97, "titleAngle": -90, "titleAlign": "center", "titleBaseline": "middle"}},
     "color": {"field": "cond", "type": "nominal", "scale": {"domain": ["siControl", "siSTAT1"], "range": ["#595959", "#b3b3b3"]}, "legend": {"title": null, "orient": "none", "legendX": 52, "legendY": 46.75, "direction": "vertical", "rowPadding": 2, "symbolSize": 36, "labelFontSize": 8.5, "labelFontWeight": "bold", "labelOffset": 4}}
    }},
   {"data": {"name": "G_bars"},
    "mark": {"type": "rule", "color": "#000000", "strokeWidth": 0.8},
    "encoding": {
     "x": {"field": "group", "type": "nominal", "sort": ["Vehicle", "E2"], "axis": null},
     "xOffset": {"field": "cond", "type": "nominal", "sort": ["siControl", "siSTAT1"]},
     "y": {"field": "value", "type": "quantitative", "axis": null},
     "y2": {"field": "hi"}
    }},
   {"data": {"name": "G_bars"},
    "mark": {"type": "tick", "color": "#000000", "size": 7, "thickness": 0.8},
    "encoding": {
     "x": {"field": "group", "type": "nominal", "sort": ["Vehicle", "E2"], "axis": null},
     "xOffset": {"field": "cond", "type": "nominal", "sort": ["siControl", "siSTAT1"]},
     "y": {"field": "hi", "type": "quantitative", "axis": null}
    }},
   {"data": {"name": "G_st"},
    "mark": {"type": "text", "text": "***", "color": "#8c8c8c", "fontSize": 10},
    "encoding": {
     "x": {"field": "group", "type": "nominal", "sort": ["Vehicle", "E2"], "axis": {"orient": "top", "title": "LCC2", "labels": false, "ticks": false, "domain": false, "titleX": 100, "titleY": 46, "titleAngle": 0, "titleAlign": "center", "titleBaseline": "alphabetic", "titleFontSize": 12, "titleFontWeight": "bold"}},
     "xOffset": {"field": "cond", "type": "nominal", "sort": ["siControl", "siSTAT1"]},
     "y": {"field": "value", "type": "quantitative", "axis": {"orient": "right", "title": "G", "labels": false, "ticks": false, "domain": false, "titleX": -213, "titleY": 38, "titleAngle": 0, "titleAlign": "left", "titleBaseline": "alphabetic", "titleFontSize": 14.5, "titleFontWeight": "bold"}}
    }}
  ]
 },
 {
  "width": 242, "height": 155,
  "resolve": {"axis": {"x": "independent", "y": "independent"}},
  "layer": [
   {"data": {"name": "H_bars"},
    "mark": {"type": "bar", "stroke": "#222222", "strokeWidth": 0.6},
    "encoding": {
     "x": {"field": "group", "type": "nominal", "sort": ["Vehicle", "E2"], "scale": {"range": [35, 167], "paddingInner": 0, "paddingOuter": 0}, "axis": {"title": null, "labelAngle": 0, "labelFontSize": 9, "tickBand": "extent", "tickSize": 4, "labelPadding": 3}},
     "xOffset": {"field": "cond", "type": "nominal", "sort": ["siControl", "siSTAT1"], "scale": {"paddingInner": 0, "paddingOuter": 0.74}},
     "y": {"field": "value", "type": "quantitative", "scale": {"domain": [0, 2], "range": [155, 51], "nice": false}, "axis": {"offset": -35, "title": "Relative luciferase activity", "values": [0, 0.5, 1, 1.5, 2], "format": "~r", "labelFontSize": 9, "tickSize": 3, "labelPadding": 3, "titleFontSize": 8.5, "titleFontWeight": "bold", "titleX": -27, "titleY": 98, "titleAngle": -90, "titleAlign": "center", "titleBaseline": "middle"}},
     "color": {"field": "cond", "type": "nominal", "scale": {"domain": ["siControl", "siSTAT1"], "range": ["#595959", "#b3b3b3"]}, "legend": {"title": null, "orient": "none", "legendX": 52, "legendY": 49.5, "direction": "vertical", "rowPadding": 5, "symbolSize": 36, "labelFontSize": 9, "labelFontWeight": "bold", "labelOffset": 5}}
    }},
   {"data": {"name": "H_bars"},
    "mark": {"type": "rule", "color": "#000000", "strokeWidth": 0.8},
    "encoding": {
     "x": {"field": "group", "type": "nominal", "sort": ["Vehicle", "E2"], "axis": null},
     "xOffset": {"field": "cond", "type": "nominal", "sort": ["siControl", "siSTAT1"]},
     "y": {"field": "value", "type": "quantitative", "axis": null},
     "y2": {"field": "hi"}
    }},
   {"data": {"name": "H_bars"},
    "mark": {"type": "tick", "color": "#000000", "size": 7, "thickness": 0.8},
    "encoding": {
     "x": {"field": "group", "type": "nominal", "sort": ["Vehicle", "E2"], "axis": null},
     "xOffset": {"field": "cond", "type": "nominal", "sort": ["siControl", "siSTAT1"]},
     "y": {"field": "hi", "type": "quantitative", "axis": null}
    }},
   {"data": {"name": "H_st"},
    "mark": {"type": "text", "text": "***", "color": "#8c8c8c", "fontSize": 10},
    "encoding": {
     "x": {"field": "group", "type": "nominal", "sort": ["Vehicle", "E2"], "axis": {"orient": "top", "title": "T47D", "labels": false, "ticks": false, "domain": false, "titleX": 99.7, "titleY": 47, "titleAngle": 0, "titleAlign": "center", "titleBaseline": "alphabetic", "titleFontSize": 13.5, "titleFontWeight": "bold"}},
     "xOffset": {"field": "cond", "type": "nominal", "sort": ["siControl", "siSTAT1"]},
     "y": {"field": "value", "type": "quantitative", "axis": {"orient": "right", "title": "H", "labels": false, "ticks": false, "domain": false, "titleX": -237, "titleY": 38, "titleAngle": 0, "titleAlign": "left", "titleBaseline": "alphabetic", "titleFontSize": 14.5, "titleFontWeight": "bold"}}
    }}
  ]
 }
]
}
